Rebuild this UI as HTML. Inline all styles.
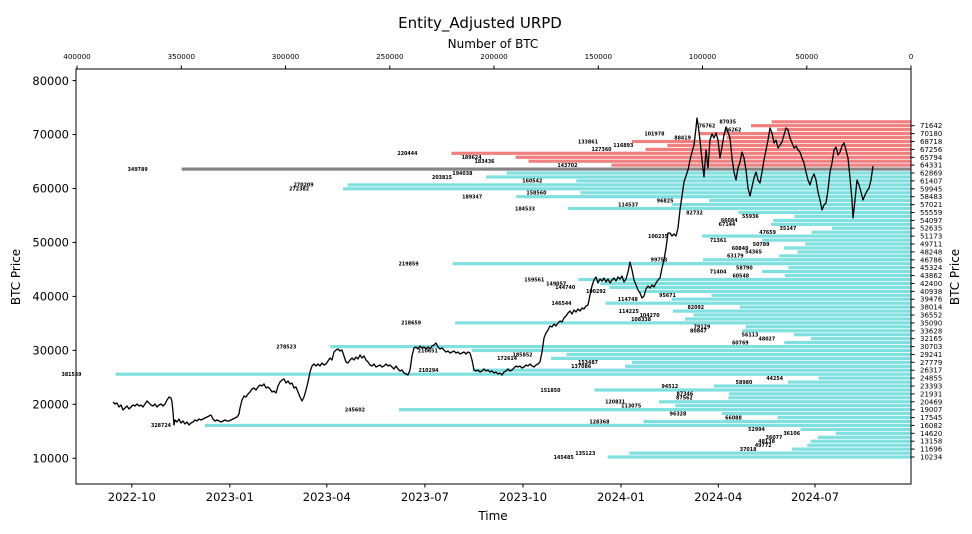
<!DOCTYPE html>
<html><head><meta charset="utf-8"><style>
html,body{margin:0;padding:0;background:#fff;}
svg{display:block;font-family:"DejaVu Sans","Liberation Sans",sans-serif;}
.bl text{font-size:4.8px;font-weight:bold;text-anchor:middle;fill:#000;}
.rt text{font-size:7px;fill:#000;}
</style></head><body>
<svg width="972" height="534" viewBox="0 0 972 534" xmlns="http://www.w3.org/2000/svg">
<rect width="972" height="534" fill="#fff"/>
<text x="480" y="28" font-size="15" text-anchor="middle">Entity_Adjusted URPD</text>
<text x="493" y="48" font-size="12" text-anchor="middle">Number of BTC</text>
<g font-size="7.2" text-anchor="middle">
<text x="77" y="59">400000</text><text x="181.3" y="59">350000</text><text x="285.5" y="59">300000</text><text x="389.8" y="59">250000</text><text x="494" y="59">200000</text><text x="598.3" y="59">150000</text><text x="702.5" y="59">100000</text><text x="806.8" y="59">50000</text><text x="911" y="59">0</text>
</g>
<g stroke="#000" stroke-width="1">
<line x1="77" y1="65.5" x2="77" y2="69"/><line x1="181.3" y1="65.5" x2="181.3" y2="69"/><line x1="285.5" y1="65.5" x2="285.5" y2="69"/><line x1="389.8" y1="65.5" x2="389.8" y2="69"/><line x1="494" y1="65.5" x2="494" y2="69"/><line x1="598.3" y1="65.5" x2="598.3" y2="69"/><line x1="702.5" y1="65.5" x2="702.5" y2="69"/><line x1="806.8" y1="65.5" x2="806.8" y2="69"/><line x1="911" y1="65.5" x2="911" y2="69"/>
</g>
<!-- bars -->
<g fill="#80dfdf">
<rect x="607.7" y="455.4" width="303.3" height="3.2"/>
<rect x="629.3" y="451.5" width="281.7" height="3.2"/>
<rect x="792.1" y="447.5" width="118.9" height="3.2"/>
<rect x="807.2" y="443.6" width="103.8" height="3.2"/>
<rect x="810.6" y="439.6" width="100.4" height="3.2"/>
<rect x="818" y="435.7" width="93" height="3.2"/>
<rect x="835.7" y="431.7" width="75.3" height="3.2"/>
<rect x="800.5" y="427.8" width="110.5" height="3.2"/>
<rect x="205" y="423.8" width="706" height="3.2"/>
<rect x="643.4" y="419.9" width="267.6" height="3.2"/>
<rect x="777.5" y="416.0" width="133.5" height="3.2"/>
<rect x="722" y="412.0" width="189" height="3.2"/>
<rect x="398.9" y="408.1" width="512.1" height="3.2"/>
<rect x="675.2" y="404.1" width="235.8" height="3.2"/>
<rect x="659.1" y="400.2" width="251.9" height="3.2"/>
<rect x="728.4" y="396.2" width="182.6" height="3.2"/>
<rect x="728.9" y="392.3" width="182.1" height="3.2"/>
<rect x="594.4" y="388.4" width="316.6" height="3.2"/>
<rect x="713.9" y="384.4" width="197.1" height="3.2"/>
<rect x="788" y="380.5" width="123" height="3.2"/>
<rect x="818.7" y="376.5" width="92.3" height="3.2"/>
<rect x="115.5" y="372.6" width="795.5" height="3.2"/>
<rect x="472.5" y="368.6" width="438.5" height="3.2"/>
<rect x="625.2" y="364.7" width="285.8" height="3.2"/>
<rect x="632" y="360.7" width="279" height="3.2"/>
<rect x="551.1" y="356.8" width="359.9" height="3.2"/>
<rect x="566.5" y="352.9" width="344.5" height="3.2"/>
<rect x="471.8" y="348.9" width="439.2" height="3.2"/>
<rect x="330.3" y="345.0" width="580.7" height="3.2"/>
<rect x="784.3" y="341.0" width="126.7" height="3.2"/>
<rect x="810.9" y="337.1" width="100.1" height="3.2"/>
<rect x="794" y="333.1" width="117" height="3.2"/>
<rect x="742.4" y="329.2" width="168.6" height="3.2"/>
<rect x="746" y="325.2" width="165" height="3.2"/>
<rect x="455.1" y="321.3" width="455.9" height="3.2"/>
<rect x="685.1" y="317.4" width="225.9" height="3.2"/>
<rect x="693.6" y="313.4" width="217.4" height="3.2"/>
<rect x="672.8" y="309.5" width="238.2" height="3.2"/>
<rect x="739.8" y="305.5" width="171.2" height="3.2"/>
<rect x="605.5" y="301.6" width="305.5" height="3.2"/>
<rect x="671.8" y="297.6" width="239.2" height="3.2"/>
<rect x="711.5" y="293.7" width="199.5" height="3.2"/>
<rect x="640" y="289.8" width="271" height="3.2"/>
<rect x="609.2" y="285.8" width="301.8" height="3.2"/>
<rect x="600.2" y="281.9" width="310.8" height="3.2"/>
<rect x="578.3" y="277.9" width="332.7" height="3.2"/>
<rect x="784.8" y="274.0" width="126.2" height="3.2"/>
<rect x="762.1" y="270.0" width="148.9" height="3.2"/>
<rect x="788.4" y="266.1" width="122.6" height="3.2"/>
<rect x="452.6" y="262.1" width="458.4" height="3.2"/>
<rect x="703" y="258.2" width="208" height="3.2"/>
<rect x="779.3" y="254.3" width="131.7" height="3.2"/>
<rect x="797.6" y="250.3" width="113.4" height="3.2"/>
<rect x="784.1" y="246.4" width="126.9" height="3.2"/>
<rect x="805.1" y="242.4" width="105.9" height="3.2"/>
<rect x="762.2" y="238.5" width="148.8" height="3.2"/>
<rect x="702" y="234.5" width="209" height="3.2"/>
<rect x="811.6" y="230.6" width="99.4" height="3.2"/>
<rect x="832" y="226.6" width="79" height="3.2"/>
<rect x="771" y="222.7" width="140" height="3.2"/>
<rect x="773.2" y="218.8" width="137.8" height="3.2"/>
<rect x="794.4" y="214.8" width="116.6" height="3.2"/>
<rect x="738.5" y="210.9" width="172.5" height="3.2"/>
<rect x="568" y="206.9" width="343" height="3.2"/>
<rect x="672.2" y="203.0" width="238.8" height="3.2"/>
<rect x="709.1" y="199.0" width="201.9" height="3.2"/>
<rect x="516.2" y="195.1" width="394.8" height="3.2"/>
<rect x="580.4" y="191.2" width="330.6" height="3.2"/>
<rect x="343.1" y="187.2" width="567.9" height="3.2"/>
<rect x="347.6" y="183.3" width="563.4" height="3.2"/>
<rect x="576.3" y="179.3" width="334.7" height="3.2"/>
<rect x="486" y="175.4" width="425" height="3.2"/>
<rect x="506.4" y="171.4" width="404.6" height="3.2"/>
</g>
<rect x="181.7" y="167.5" width="729.3" height="3.2" fill="#858585"/>
<g fill="#f08080">
<rect x="611.4" y="163.5" width="299.6" height="3.2"/>
<rect x="528.5" y="159.6" width="382.5" height="3.2"/>
<rect x="515.6" y="155.7" width="395.4" height="3.2"/>
<rect x="451.4" y="151.7" width="459.6" height="3.2"/>
<rect x="645.5" y="147.8" width="265.5" height="3.2"/>
<rect x="667.3" y="143.8" width="243.7" height="3.2"/>
<rect x="631.9" y="139.9" width="279.1" height="3.2"/>
<rect x="726.6" y="135.9" width="184.4" height="3.2"/>
<rect x="698.4" y="132.0" width="212.6" height="3.2"/>
<rect x="777" y="128.0" width="134" height="3.2"/>
<rect x="751" y="124.1" width="160" height="3.2"/>
<rect x="771.7" y="120.2" width="139.3" height="3.2"/>
</g>
<!-- price line -->
<polyline fill="none" stroke="#000" stroke-width="1.3" stroke-linejoin="round" points="113,402 115,404 117,403 119,407 121,405 123,410 125,408 127,406 129,409 131,407 133,405 135,406 137,404 139,406 141,405 143,407 145,404 147,401 149,403 151,405 153,406 155,404 157,407 159,405 161,404 163,406 165,404 167,400 169,397 171,398 172,402 173,412 174,425 175,420 177,422 179,419 181,423 183,421 185,424 187,422 189,425 191,423 193,422 195,420 197,421 199,419 201,420 203,419 205,418 207,417 209,416 211,415 213,419 215,421 217,420 219,421 221,422 223,421 225,420 227,421 229,421 231,420 233,419 235,418 237,417 239,414 240,408 242,400 244,396 246,397 248,394 250,392 252,389 254,388 256,390 258,387 260,385 262,386 264,384 266,388 268,387 270,389 272,392 274,391 276,393 278,386 280,382 282,380 284,379 286,383 288,381 290,384 292,383 294,388 296,387 298,392 300,397 302,401 304,397 306,390 308,382 310,372 312,366 314,364 316,366 318,364 320,366 322,363 324,365 326,364 328,361 330,358 332,360 334,352 336,350 338,349 340,351 342,350 344,356 346,362 348,363 350,360 352,358 354,360 356,357 358,359 360,355 362,358 364,356 366,360 368,362 370,365 372,366 374,364 376,367 378,366 380,365 382,367 384,366 386,364 388,366 390,365 392,367 394,369 396,366 398,369 400,371 402,370 404,373 406,374 408,375 410,370 412,356 414,348 416,347 418,349 420,346 422,348 424,347 426,349 428,347 430,349 432,346 434,345 436,343 438,347 440,349 442,348 444,350 446,352 448,351 450,353 452,352 454,351 456,353 458,352 460,354 462,353 464,352 466,354 468,352 470,353 472,360 474,370 476,371 478,370 480,372 482,371 484,369 486,371 488,370 490,372 492,371 494,373 496,372 498,374 500,373 502,375 504,372 506,371 508,369 510,371 512,370 514,368 516,366 518,367 520,366 522,368 524,367 526,365 528,366 530,364 532,366 534,367 536,365 538,364 540,362 542,352 544,338 546,333 548,330 550,326 552,327 554,324 556,326 558,323 560,321 562,322 564,318 566,316 568,313 570,311 572,314 574,310 576,312 578,309 580,311 582,308 584,309 586,306 588,305 590,295 592,286 594,280 596,277 598,283 600,279 602,281 604,278 606,282 608,279 610,283 612,280 614,278 616,281 618,277 620,279 622,276 624,282 626,279 628,272 630,262 632,270 634,280 636,285 638,290 640,293 642,298 644,296 646,289 648,286 650,288 652,285 654,287 656,283 658,280 660,278 662,268 664,260 666,248 668,233 670,233 672,236 674,234 676,236 678,228 680,210 682,196 684,182 686,176 688,170 690,160 692,152 694,145 696,128 697,118 698,124 700,140 702,160 704,177 706,150 708,168 710,140 712,134 714,138 716,133 718,140 720,158 722,147 724,135 726,127 728,132 730,138 732,158 734,172 736,180 738,168 740,162 742,152 744,158 746,170 748,188 750,196 752,187 754,178 756,172 758,180 760,183 762,172 764,160 766,150 768,140 770,128 772,133 774,143 776,140 778,148 780,145 782,142 784,135 786,128 788,130 790,138 792,143 794,148 796,146 798,150 800,152 802,158 804,163 806,172 808,180 810,185 812,178 814,174 816,180 818,192 820,200 822,210 824,205 826,203 828,190 830,172 832,163 834,150 836,147 838,155 840,152 842,146 844,143 846,150 848,158 850,178 852,200 853,218 855,200 857,180 859,185 861,192 863,200 865,195 867,191 869,188 871,180 873,166"/>
<!-- bar labels -->
<g class="bl">
<text x="563.7" y="458.8">145485</text>
<text x="585.3" y="454.9">135123</text>
<text x="748.1" y="450.9">37018</text>
<text x="763.2" y="447.0">49772</text>
<text x="766.6" y="443.0">48138</text>
<text x="774" y="439.1">36077</text>
<text x="791.7" y="435.1">36106</text>
<text x="756.5" y="431.2">52994</text>
<text x="161" y="427.2">328724</text>
<text x="599.4" y="423.3">128368</text>
<text x="733.5" y="419.4">66088</text>
<text x="678" y="415.4">96328</text>
<text x="354.9" y="411.5">245602</text>
<text x="631.2" y="407.5">113075</text>
<text x="615.1" y="403.6">120831</text>
<text x="684.4" y="399.6">87562</text>
<text x="684.9" y="395.7">87346</text>
<text x="550.4" y="391.8">151850</text>
<text x="669.9" y="387.8">94512</text>
<text x="744" y="383.9">58980</text>
<text x="774.7" y="379.9">44254</text>
<text x="71.5" y="376.0">381559</text>
<text x="428.5" y="372.0">210294</text>
<text x="581.2" y="368.1">137086</text>
<text x="588" y="364.1">153487</text>
<text x="507.1" y="360.2">172614</text>
<text x="522.5" y="356.3">185852</text>
<text x="427.8" y="352.3">210651</text>
<text x="286.3" y="348.4">278523</text>
<text x="740.3" y="344.4">60769</text>
<text x="766.9" y="340.5">48027</text>
<text x="750" y="336.5">56113</text>
<text x="698.4" y="332.6">80847</text>
<text x="702" y="328.6">79129</text>
<text x="411.1" y="324.7">218659</text>
<text x="641.1" y="320.8">108338</text>
<text x="649.6" y="316.8">104270</text>
<text x="628.8" y="312.9">114225</text>
<text x="695.8" y="308.9">82092</text>
<text x="561.5" y="305.0">146544</text>
<text x="627.8" y="301.0">114748</text>
<text x="667.5" y="297.1">95671</text>
<text x="596" y="293.2">100292</text>
<text x="565.2" y="289.2">144740</text>
<text x="556.2" y="285.3">149057</text>
<text x="534.3" y="281.3">159561</text>
<text x="740.8" y="277.4">60548</text>
<text x="718.1" y="273.4">71404</text>
<text x="744.4" y="269.5">58790</text>
<text x="408.6" y="265.5">219859</text>
<text x="659" y="261.6">99753</text>
<text x="735.3" y="257.7">63179</text>
<text x="753.6" y="253.7">54365</text>
<text x="740.1" y="249.8">60840</text>
<text x="761.1" y="245.8">50789</text>
<text x="718.2" y="241.9">71361</text>
<text x="658" y="237.9">100235</text>
<text x="767.6" y="234.0">47659</text>
<text x="788" y="230.0">35147</text>
<text x="727" y="226.1">67144</text>
<text x="729.2" y="222.2">66084</text>
<text x="750.4" y="218.2">55936</text>
<text x="694.5" y="214.3">82732</text>
<text x="525" y="210.3">184533</text>
<text x="628.2" y="206.4">114537</text>
<text x="665.1" y="202.4">96825</text>
<text x="472.2" y="198.5">189347</text>
<text x="536.4" y="194.6">158560</text>
<text x="299.1" y="190.6">272382</text>
<text x="303.6" y="186.7">270209</text>
<text x="532.3" y="182.7">160542</text>
<text x="442" y="178.8">203815</text>
<text x="462.4" y="174.8">194038</text>
<text x="137.7" y="170.9">349789</text>
<text x="567.4" y="166.9">143702</text>
<text x="484.5" y="163.0">183436</text>
<text x="471.6" y="159.1">189624</text>
<text x="407.4" y="155.1">220444</text>
<text x="601.5" y="151.2">127360</text>
<text x="623.3" y="147.2">116893</text>
<text x="587.9" y="143.3">133861</text>
<text x="682.6" y="139.3">88419</text>
<text x="654.4" y="135.4">101978</text>
<text x="733" y="131.4">86262</text>
<text x="707" y="127.5">76762</text>
<text x="727.7" y="123.6">87035</text>
</g>
<!-- frame -->
<rect x="76" y="69" width="835" height="415" fill="none" stroke="#000" stroke-width="1"/>
<!-- left ticks -->
<g stroke="#000" stroke-width="1">
<line x1="72.5" y1="80.6" x2="76" y2="80.6"/><line x1="72.5" y1="134.55" x2="76" y2="134.55"/><line x1="72.5" y1="188.5" x2="76" y2="188.5"/><line x1="72.5" y1="242.45" x2="76" y2="242.45"/><line x1="72.5" y1="296.4" x2="76" y2="296.4"/><line x1="72.5" y1="350.35" x2="76" y2="350.35"/><line x1="72.5" y1="404.3" x2="76" y2="404.3"/><line x1="72.5" y1="458.25" x2="76" y2="458.25"/>
</g>
<g font-size="11.5" text-anchor="end">
<text x="69" y="84.8">80000</text><text x="69" y="138.7">70000</text><text x="69" y="192.7">60000</text><text x="69" y="246.6">50000</text><text x="69" y="300.6">40000</text><text x="69" y="354.5">30000</text><text x="69" y="408.5">20000</text><text x="69" y="462.4">10000</text>
</g>
<text transform="translate(20,277) rotate(-90)" font-size="12" text-anchor="middle">BTC Price</text>
<!-- bottom ticks -->
<g stroke="#000" stroke-width="1">
<line x1="131.8" y1="484" x2="131.8" y2="487.5"/><line x1="229.8" y1="484" x2="229.8" y2="487.5"/><line x1="326.8" y1="484" x2="326.8" y2="487.5"/><line x1="424.9" y1="484" x2="424.9" y2="487.5"/><line x1="523" y1="484" x2="523" y2="487.5"/><line x1="621" y1="484" x2="621" y2="487.5"/><line x1="718.3" y1="484" x2="718.3" y2="487.5"/><line x1="815" y1="484" x2="815" y2="487.5"/>
</g>
<g font-size="11.5" text-anchor="middle">
<text x="131.8" y="501">2022-10</text><text x="229.8" y="501">2023-01</text><text x="326.8" y="501">2023-04</text><text x="424.9" y="501">2023-07</text><text x="523" y="501">2023-10</text><text x="621" y="501">2024-01</text><text x="718.3" y="501">2024-04</text><text x="815" y="501">2024-07</text>
</g>
<text x="493" y="520" font-size="12" text-anchor="middle">Time</text>
<!-- right ticks -->
<g stroke="#000" stroke-width="1">
<line x1="911" y1="457.0" x2="914.5" y2="457.0"/><line x1="911" y1="449.1" x2="914.5" y2="449.1"/><line x1="911" y1="441.2" x2="914.5" y2="441.2"/><line x1="911" y1="433.3" x2="914.5" y2="433.3"/><line x1="911" y1="425.4" x2="914.5" y2="425.4"/><line x1="911" y1="417.6" x2="914.5" y2="417.6"/><line x1="911" y1="409.7" x2="914.5" y2="409.7"/><line x1="911" y1="401.8" x2="914.5" y2="401.8"/><line x1="911" y1="393.9" x2="914.5" y2="393.9"/><line x1="911" y1="386.0" x2="914.5" y2="386.0"/><line x1="911" y1="378.1" x2="914.5" y2="378.1"/><line x1="911" y1="370.2" x2="914.5" y2="370.2"/><line x1="911" y1="362.3" x2="914.5" y2="362.3"/><line x1="911" y1="354.5" x2="914.5" y2="354.5"/><line x1="911" y1="346.6" x2="914.5" y2="346.6"/><line x1="911" y1="338.7" x2="914.5" y2="338.7"/><line x1="911" y1="330.8" x2="914.5" y2="330.8"/><line x1="911" y1="322.9" x2="914.5" y2="322.9"/><line x1="911" y1="315.0" x2="914.5" y2="315.0"/><line x1="911" y1="307.1" x2="914.5" y2="307.1"/><line x1="911" y1="299.2" x2="914.5" y2="299.2"/><line x1="911" y1="291.4" x2="914.5" y2="291.4"/><line x1="911" y1="283.5" x2="914.5" y2="283.5"/><line x1="911" y1="275.6" x2="914.5" y2="275.6"/><line x1="911" y1="267.7" x2="914.5" y2="267.7"/><line x1="911" y1="259.8" x2="914.5" y2="259.8"/><line x1="911" y1="251.9" x2="914.5" y2="251.9"/><line x1="911" y1="244.0" x2="914.5" y2="244.0"/><line x1="911" y1="236.1" x2="914.5" y2="236.1"/><line x1="911" y1="228.2" x2="914.5" y2="228.2"/><line x1="911" y1="220.4" x2="914.5" y2="220.4"/><line x1="911" y1="212.5" x2="914.5" y2="212.5"/><line x1="911" y1="204.6" x2="914.5" y2="204.6"/><line x1="911" y1="196.7" x2="914.5" y2="196.7"/><line x1="911" y1="188.8" x2="914.5" y2="188.8"/><line x1="911" y1="180.9" x2="914.5" y2="180.9"/><line x1="911" y1="173.0" x2="914.5" y2="173.0"/><line x1="911" y1="165.1" x2="914.5" y2="165.1"/><line x1="911" y1="157.3" x2="914.5" y2="157.3"/><line x1="911" y1="149.4" x2="914.5" y2="149.4"/><line x1="911" y1="141.5" x2="914.5" y2="141.5"/><line x1="911" y1="133.6" x2="914.5" y2="133.6"/><line x1="911" y1="125.7" x2="914.5" y2="125.7"/>
</g>
<g class="rt">
<text x="920" y="459.5">10234</text><text x="920" y="451.6">11696</text><text x="920" y="443.7">13158</text><text x="920" y="435.8">14620</text><text x="920" y="427.9">16082</text><text x="920" y="420.1">17545</text><text x="920" y="412.2">19007</text><text x="920" y="404.3">20469</text><text x="920" y="396.4">21931</text><text x="920" y="388.5">23393</text><text x="920" y="380.6">24855</text><text x="920" y="372.7">26317</text><text x="920" y="364.8">27779</text><text x="920" y="357.0">29241</text><text x="920" y="349.1">30703</text><text x="920" y="341.2">32165</text><text x="920" y="333.3">33628</text><text x="920" y="325.4">35090</text><text x="920" y="317.5">36552</text><text x="920" y="309.6">38014</text><text x="920" y="301.7">39476</text><text x="920" y="293.9">40938</text><text x="920" y="286.0">42400</text><text x="920" y="278.1">43862</text><text x="920" y="270.2">45324</text><text x="920" y="262.3">46786</text><text x="920" y="254.4">48248</text><text x="920" y="246.5">49711</text><text x="920" y="238.6">51173</text><text x="920" y="230.7">52635</text><text x="920" y="222.9">54097</text><text x="920" y="215.0">55559</text><text x="920" y="207.1">57021</text><text x="920" y="199.2">58483</text><text x="920" y="191.3">59945</text><text x="920" y="183.4">61407</text><text x="920" y="175.5">62869</text><text x="920" y="167.6">64331</text><text x="920" y="159.8">65794</text><text x="920" y="151.9">67256</text><text x="920" y="144.0">68718</text><text x="920" y="136.1">70180</text><text x="920" y="128.2">71642</text>
</g>
<text transform="translate(959,277) rotate(-90)" font-size="12" text-anchor="middle">BTC Price</text>
</svg>
</body></html>
